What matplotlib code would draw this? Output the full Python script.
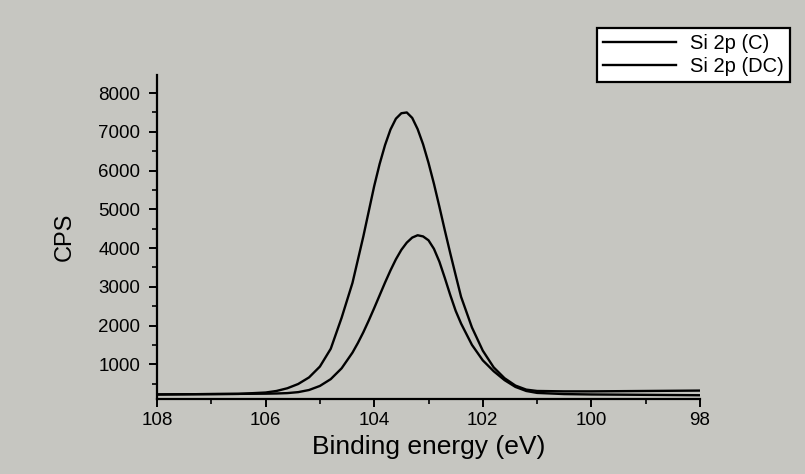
import numpy as np
import matplotlib.pyplot as plt
from matplotlib.ticker import MultipleLocator

plt.rcParams['font.family'] = ['Liberation Sans', 'DejaVu Sans']

# Binding energy (eV)
energy = [108.0, 107.5, 107.0, 106.5, 106.0, 105.8, 105.6, 105.4, 105.2, 105.0,
          104.8, 104.6, 104.4, 104.3, 104.2, 104.1, 104.0, 103.9, 103.8, 103.7,
          103.6, 103.5, 103.4, 103.3, 103.2, 103.1, 103.0, 102.9, 102.8, 102.7,
          102.6, 102.5, 102.4, 102.2, 102.0, 101.8, 101.6, 101.4, 101.2, 101.0,
          100.5, 100.0, 99.5, 99.0, 98.5, 98.0]

# Si 2p (C)
cps_c = [220, 225, 230, 235, 270, 310, 380, 490, 660, 940,
         1400, 2200, 3100, 3700, 4300, 4950, 5600, 6170, 6660, 7060,
         7340, 7480, 7500, 7360, 7070, 6680, 6200, 5660, 5070, 4460,
         3870, 3300, 2740, 1950, 1350, 920, 640, 450, 345, 310,
         300, 300, 305, 310, 315, 320]

# Si 2p (DC)
cps_dc = [220, 225, 230, 235, 240, 245, 255, 280, 335, 440,
          616, 895, 1300, 1550, 1826, 2130, 2450, 2780, 3110, 3423,
          3710, 3953, 4140, 4270, 4330, 4300, 4200, 3980, 3650, 3230,
          2790, 2380, 2050, 1500, 1100, 820, 590, 415, 310, 260,
          230, 220, 215, 210, 205, 200]

labels = ['Si 2p (C)', 'Si 2p (DC)']

fig = plt.figure(figsize=(8.05, 4.74), dpi=100)
fig.patch.set_facecolor('#c6c6c1')
ax = fig.add_axes([0.195, 0.158, 0.6746, 0.684])
ax.set_facecolor('none')

l1, = ax.plot(energy, cps_c, color='black', lw=1.7)
l2, = ax.plot(energy, cps_dc, color='black', lw=1.7)

ax.set_xlim(108, 98)
ax.set_ylim(100, 8470)
ax.xaxis.set_minor_locator(MultipleLocator(1))
ax.yaxis.set_minor_locator(MultipleLocator(500))
ax.set_yticks([1000, 2000, 3000, 4000, 5000, 6000, 7000, 8000])
ax.set_xticks([108, 106, 104, 102, 100, 98])
ax.set_xticklabels(['108', '106', '104', '102', '100', '98'])

for s in ['top', 'right']:
    ax.spines[s].set_visible(False)
for s in ['left', 'bottom']:
    ax.spines[s].set_linewidth(1.6)

ax.tick_params(which='major', direction='out', length=6, width=1.4, labelsize=13.5)
ax.tick_params(axis='y', which='major', pad=6)
ax.tick_params(which='minor', direction='out', length=3.5, width=1.2)

ax.set_xlabel('Binding energy (eV)', fontsize=19, labelpad=4)
ax.set_ylabel('CPS', fontsize=17, labelpad=16)

leg = fig.legend([l1, l2], labels, loc='upper right', bbox_to_anchor=(0.981, 0.941),
                 fontsize=14.5, frameon=True, fancybox=False, framealpha=1,
                 edgecolor='black', handlelength=3.6, handletextpad=0.7,
                 labelspacing=0.2, borderpad=0.3, borderaxespad=0)
leg.get_frame().set_linewidth(1.6)

fig.savefig('out.png', dpi=100, facecolor=fig.get_facecolor())
